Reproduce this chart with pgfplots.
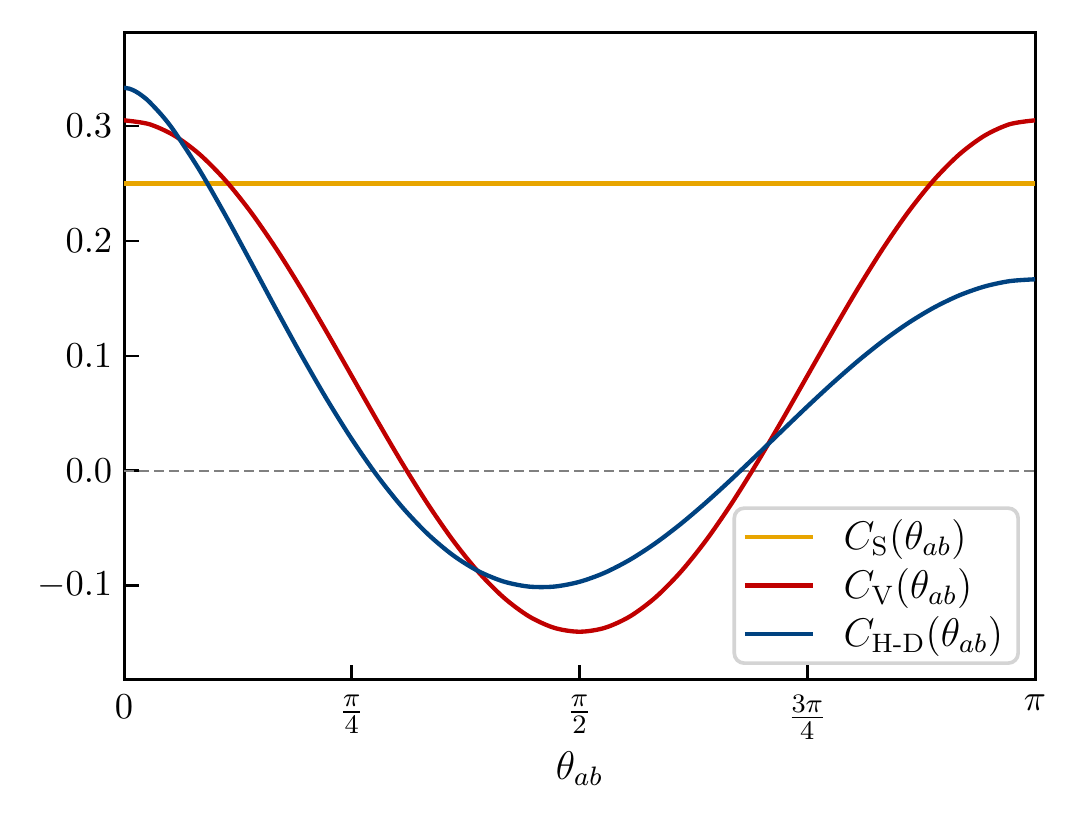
\documentclass[border=0pt]{standalone}
\usepackage{amsmath}
\usepackage{pgfplots}
\pgfplotsset{compat=1.18}
\usepackage{pgfplotstable}
\definecolor{cS}{RGB}{232,165,0}
\definecolor{cV}{RGB}{192,0,0}
\definecolor{cHD}{RGB}{0,66,128}
\pgfplotstableread{
t v
0 0.30500
5 0.30162
10 0.29158
15 0.27519
20 0.25294
25 0.22552
30 0.19375
35 0.15860
40 0.12114
45 0.08250
50 0.04386
55 0.00640
60 -0.02875
65 -0.06052
70 -0.08794
75 -0.11019
80 -0.12658
85 -0.13662
90 -0.14000
95 -0.13662
100 -0.12658
105 -0.11019
110 -0.08794
115 -0.06052
120 -0.02875
125 0.00640
130 0.04386
135 0.08250
140 0.12114
145 0.15860
150 0.19375
155 0.22552
160 0.25294
165 0.27519
170 0.29158
175 0.30162
180 0.30500
}\tabV
\pgfplotstableread{
t v
0 0.33333
1 0.33260
2 0.33082
3 0.32823
4 0.32496
5 0.32110
7.5 0.30929
10 0.29500
15 0.26111
20 0.22273
25 0.18214
30 0.14109
35 0.10095
40 0.06283
45 0.02758
50 -0.00410
55 -0.03172
60 -0.05491
65 -0.07345
70 -0.08724
75 -0.09630
80 -0.10073
85 -0.10073
90 -0.09657
95 -0.08863
100 -0.07726
105 -0.06297
110 -0.04622
115 -0.02751
120 -0.00743
125 0.01353
130 0.03481
135 0.05591
140 0.07630
145 0.09553
150 0.11313
155 0.12874
160 0.14199
165 0.15262
170 0.16037
175 0.16508
180 0.16667
}\tabHD
\begin{document}
\begin{tikzpicture}
\begin{axis}[
  at={(0pt,0pt)}, anchor=south west,
  scale only axis,
  width=273.3pt, height=194.1pt,
  xmin=0, xmax=180,
  ymin=-0.182, ymax=0.381,
  axis line style={line width=0.9pt},
  tick align=inside,
  xtick pos=bottom, ytick pos=left,
  major tick length=4.5pt,
  tick style={line width=0.8pt, black},
  tick label style={font=\fontsize{11}{13}\selectfont},
  xtick={0,45,90,135,180},
  xticklabels={$0$,$\frac{\pi}{4}$,$\frac{\pi}{2}$,$\frac{3\pi}{4}$,$\pi$},
  ytick={-0.1,0,0.1,0.2,0.3},
  yticklabel style={/pgf/number format/fixed,/pgf/number format/fixed zerofill,/pgf/number format/precision=1},
  scaled y ticks=false,
  xticklabel style={yshift=-1pt},
  xlabel={$\theta_{ab}$},
  xlabel style={yshift=3pt, font=\large},
  legend style={at={(axis description cs:0.9835,0.0232)}, anchor=south east,
    draw=black!17, line width=1.1pt, rounded corners=3pt, fill=white,
    cells={anchor=west}, row sep=0pt, inner xsep=2.5pt, inner ysep=1.5pt,
    font=\large},
  legend image code/.code={\draw[#1] (0pt,0pt) -- (20.5pt,0pt); \path (27pt,0pt);},
]
\addplot[gray, line width=0.6pt, dash pattern=on 3pt off 1.5pt, forget plot] coordinates {(0,0) (180,0)};
\addplot[cS, line width=1.3pt] coordinates {(0,0.25) (180,0.25)};
\addlegendentry{$C_{\mathrm{S}}(\theta_{ab})$}
\addplot[cV, line width=1.3pt, smooth] table[x=t,y=v] {\tabV};
\addlegendentry{$C_{\mathrm{V}}(\theta_{ab})$}
\addplot[cHD, line width=1.3pt, smooth] table[x=t,y=v] {\tabHD};
\addlegendentry{$C_{\text{H-D}}(\theta_{ab})$}
\end{axis}
\pgfresetboundingbox
\path[use as bounding box] (-37.2pt,-41.1pt) rectangle (286.5pt,204pt);
\end{tikzpicture}
\end{document}
